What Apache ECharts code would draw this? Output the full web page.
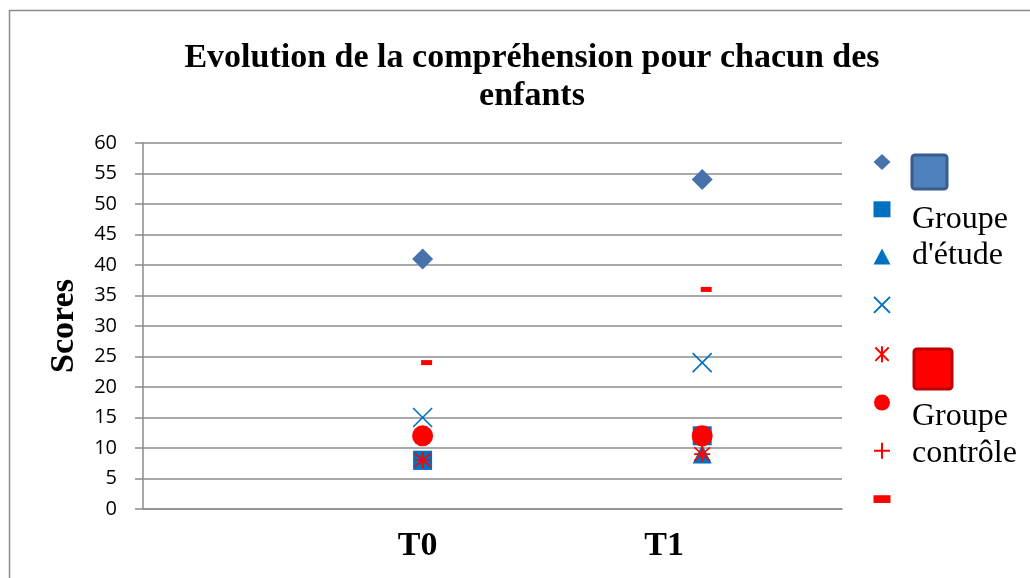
<!DOCTYPE html>
<html>
<head>
<meta charset="utf-8">
<script src="https://cdn.jsdelivr.net/npm/echarts@6/dist/echarts.min.js"></script>
<style>
  html, body { margin: 0; padding: 0; background: #fff; }
  #chart { width: 1030px; height: 578px; }
</style>
</head>
<body>
<div id="chart"></div>
<script>
  // moments de mesure
  var temps = ['T0', 'T1'];
  // scores de chaque enfant (T0, T1)
  var enfant1 = [41, 54];
  var enfant2 = [8, 12];
  var enfant3 = [8, 9];
  var enfant4 = [15, 24];
  var enfant5 = [8, 9];
  var enfant6 = [12, 12];
  var enfant7 = [8, 9];
  var enfant8 = [24, 36];
  var yTicks = [0, 60, 5];

  var bleu = '#0070c0';
  var rouge = '#ff0000';

  var chart = echarts.init(document.getElementById('chart'));

  function pts(vals) {
    return vals.map(function (v, i) { return [i + 1, v]; });
  }

  function serie(name, vals, symbol, size, color, stroke, offset) {
    var s = {
      name: name,
      type: 'scatter',
      data: pts(vals),
      symbol: symbol,
      symbolSize: size,
      itemStyle: stroke
        ? { color: 'transparent', borderColor: color, borderWidth: 1.6, opacity: 1 }
        : { color: color, opacity: 1 }
    };
    if (offset) s.symbolOffset = offset;
    return s;
  }

  var series = [
    serie('E1', enfant1, 'diamond', 21, '#4872ab'),
    serie('E2', enfant2, 'rect', 19, bleu),
    serie('E3', enfant3, 'triangle', 19, bleu),
    serie('E4', enfant4, 'path://M0,0L10,10M10,0L0,10', 19, bleu, true),
    serie('E5', enfant5, 'path://M0,0L10,10M10,0L0,10M5,-1L5,11', 16, rouge, true),
    serie('E6', enfant6, 'circle', 21, rouge),
    serie('E7', enfant7, 'path://M5,0L5,10M0,5L10,5', 16, rouge, true),
    serie('E8', enfant8, 'rect', [11, 5], rouge, false, [4, 0])
  ];

  var legendData = series.map(function (s) { return { name: s.name }; });
  legendData[7].icon = 'path://M0,0L11,0L11,5L0,5Z';

  chart.setOption({
    backgroundColor: '#fff',
    animation: false,
    title: {
      text: 'Evolution de la compréhension pour chacun des\nenfants',
      left: 527,
      top: 34,
      textAlign: 'center',
      textStyle: {
        fontFamily: 'Liberation Serif',
        fontWeight: 'bold',
        fontSize: 34,
        lineHeight: 38,
        color: '#000'
      }
    },
    legend: {
      orient: 'vertical',
      left: 868,
      top: 149,
      itemGap: 31.3,
      itemWidth: 17,
      itemHeight: 16,
      formatter: function () { return ''; },
      selectedMode: false,
      data: legendData
    },
    grid: { left: 143, right: 188, top: 143, bottom: 69 },
    xAxis: {
      type: 'value',
      min: 0,
      max: 2.5,
      interval: 0.5,
      splitLine: { show: false },
      axisTick: { show: false },
      axisLine: { lineStyle: { color: '#8c8c8c', width: 1.5 } },
      axisLabel: {
        margin: 20,
        fontFamily: 'Liberation Serif',
        fontWeight: 'bold',
        fontSize: 34,
        color: '#000',
        formatter: function (v) {
          var i = Math.round(v) - 1;
          if (Math.abs(v - Math.round(v)) > 1e-6 || !temps[i]) return '';
          return '{' + (i === 0 ? 'a' : 'b') + '|' + temps[i] + '}';
        },
        rich: {
          a: { fontFamily: 'Liberation Serif', fontWeight: 'bold', fontSize: 34, padding: [0, 10, 0, 0] },
          b: { fontFamily: 'Liberation Serif', fontWeight: 'bold', fontSize: 34, padding: [0, 76, 0, 0] }
        }
      }
    },
    yAxis: {
      type: 'value',
      min: yTicks[0],
      max: yTicks[1],
      interval: yTicks[2],
      name: 'Scores',
      nameLocation: 'middle',
      nameGap: 62,
      nameTextStyle: {
        fontFamily: 'Liberation Serif',
        fontWeight: 'bold',
        fontSize: 34,
        color: '#000'
      },
      axisLine: { show: true, lineStyle: { color: '#8c8c8c', width: 1.5 } },
      axisTick: { show: true, length: 8, lineStyle: { color: '#8c8c8c', width: 1.5 } },
      splitLine: { lineStyle: { color: '#8c8c8c', width: 1.5 } },
      axisLabel: {
        margin: 26,
        fontFamily: 'Open Sans',
        fontSize: 20,
        color: '#000'
      }
    },
    graphic: [
      {
        type: 'rect',
        shape: { x: 9.5, y: 10.5, width: 1200, height: 800 },
        style: { fill: 'none', stroke: '#8c8c8c', lineWidth: 1.5 },
        silent: true
      },
      {
        type: 'rect',
        shape: { x: 912, y: 155, width: 35, height: 34, r: 3 },
        style: { fill: '#4f81bd', stroke: '#385d8a', lineWidth: 3 }
      },
      {
        type: 'text',
        left: 912,
        top: 202,
        style: {
          text: "Groupe\nd'étude",
          font: '32px "Liberation Serif"',
          lineHeight: 36,
          fill: '#000'
        }
      },
      {
        type: 'rect',
        shape: { x: 914, y: 349, width: 38, height: 40, r: 3 },
        style: { fill: '#ff0000', stroke: '#c00000', lineWidth: 3 }
      },
      {
        type: 'text',
        left: 912,
        top: 398,
        style: {
          text: 'Groupe\ncontrôle',
          font: '32px "Liberation Serif"',
          lineHeight: 37,
          fill: '#000'
        }
      }
    ],
    series: series
  });
</script>
</body>
</html>
